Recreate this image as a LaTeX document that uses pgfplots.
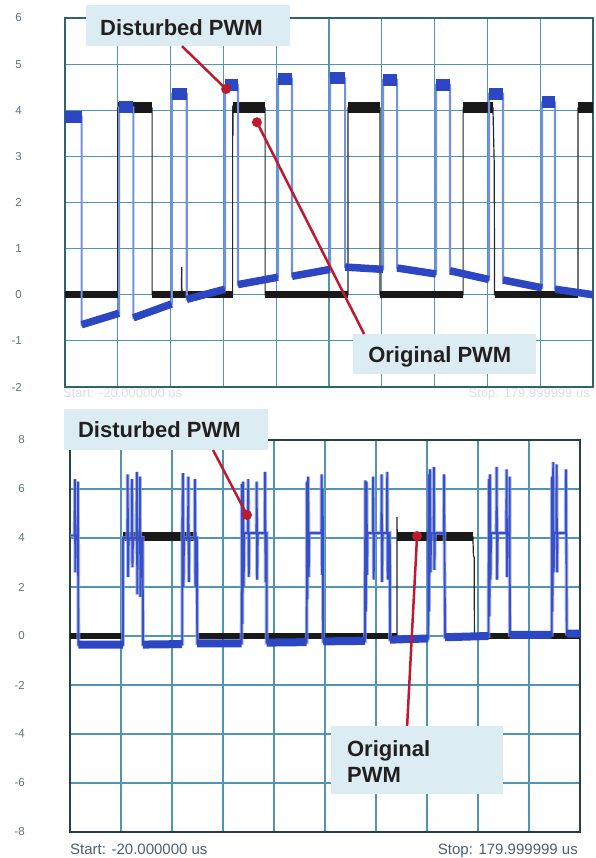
\documentclass[border=0pt]{standalone}
\usepackage{fontspec}
\setmainfont{Liberation Sans}
\usepackage{pgfplots}
\usepackage{pgfplotstable}
\pgfplotsset{compat=1.18}
\definecolor{gridc}{RGB}{80,150,180}
\definecolor{framec}{RGB}{45,100,110}
\definecolor{frameb}{RGB}{35,65,65}
\definecolor{bluedark}{RGB}{45,70,195}
\definecolor{bluelight}{RGB}{115,145,225}
\definecolor{bluehalo}{RGB}{140,160,230}
\definecolor{bluemid}{RGB}{55,80,200}
\definecolor{boxc}{RGB}{219,237,243}
\definecolor{redc}{RGB}{190,25,45}
\definecolor{txtc}{RGB}{35,31,32}
\definecolor{tickc}{RGB}{95,115,125}
\definecolor{startc}{RGB}{75,95,115}
\pgfplotstableread{
t v
-20 4.1
-18.2 4.1
-18.1 6.4
-17.9 2.6
-17.7 4.1
-17.0 4.1
-16.9 6.3
-16.7 -0.35
0.8 -0.35
0.8 4.0
2.5 4.0
2.6 6.6
2.8 2.4
3.0 4.0
4.2 4.0
4.3 6.4
4.5 2.8
4.7 4.0
6.1 4.0
6.2 6.7
6.4 1.7
6.6 4.0
7.3 4.0
7.4 6.5
7.6 1.6
7.8 4.0
8.5 4.0
8.6 -0.35
24.0 -0.33
24.0 4.0
24.3 6.65
24.5 2.0
24.7 4.0
26.3 4.0
26.4 6.5
26.6 2.2
26.8 4.0
28.9 4.0
29.0 6.4
29.2 2.0
29.4 4.0
29.8 4.0
29.9 -0.3
47.3 -0.3
47.4 6.2
47.6 0.5
47.9 6.3
48.1 2.0
48.3 4.2
49.8 4.2
49.9 6.4
50.1 2.4
50.3 4.2
53.1 4.2
53.2 6.3
53.4 2.3
53.6 4.2
56.4 4.2
56.5 6.7
56.7 2.2
56.9 4.2
57.1 4.2
57.1 -0.27
72.8 -0.25
72.9 6.3
73.1 1.5
73.4 6.5
73.6 2.4
73.8 4.2
78.6 4.2
78.7 6.6
78.9 2.5
79.1 6.0
79.3 -0.22
95.7 -0.2
95.8 6.35
96.0 1.0
96.3 6.3
96.5 2.5
96.7 4.2
98.8 4.2
98.9 6.5
99.1 2.3
99.3 4.2
102.1 4.2
102.2 6.6
102.4 2.2
102.6 4.2
104.3 4.2
104.4 6.7
104.6 2.3
104.8 4.2
105.4 4.2
105.5 -0.15
120.5 -0.1
120.6 6.6
120.8 1.0
121.2 6.8
121.4 2.6
121.6 4.2
122.6 4.2
122.7 6.9
122.9 2.7
123.1 4.2
126.6 4.2
126.7 6.6
126.9 2.6
127.1 -0.05
144.1 0.0
144.3 6.4
144.5 0.8
144.7 6.6
144.9 2.3
145.1 4.2
147.2 4.2
147.3 6.9
147.5 2.3
147.7 4.2
151.1 4.2
151.2 6.8
151.4 2.4
151.6 4.2
152.3 4.2
152.4 6.5
152.5 0.05
168.9 0.05
169.0 6.5
169.2 1.0
169.5 7.1
169.7 2.6
169.9 4.2
170.7 4.2
170.8 7.0
171.0 2.6
171.2 4.2
174.4 4.2
174.5 6.8
174.7 2.6
174.8 0.1
180 0.1
}\burst
\begin{document}
\begin{tikzpicture}
\useasboundingbox (0pt,0pt) rectangle (595pt,858pt);
% ---------------- TOP PANEL ----------------
\begin{axis}[
  at={(65pt,471pt)}, anchor=south west, scale only axis,
  width=528pt, height=369pt,
  xmin=-20, xmax=180, ymin=-2, ymax=6,
  xtick={-20,0,...,180}, xticklabels={},
  ytick={-2,-1,...,6}, yticklabels={-2,-1,0,1,2,3,4,5,6},
  major tick length=0pt,
  grid=major, major grid style={gridc, line width=1.2pt},
  axis line style={framec, line width=1.4pt},
  yticklabel style={font=\fontsize{11.5}{13}\selectfont, text=tickc, anchor=east, inner sep=0pt, xshift=-43pt},
  clip=false, unbounded coords=jump,
]
% original PWM (black) thin trace
\addplot[black!85, line width=1.2pt] coordinates {
(-20,0)(0,0)(0,4.05)(13,4.05)(13,0)(24.1,0)(24.2,0.6)(24.3,0)(43.5,0)(43.5,4.1)(43.6,3.45)(43.7,4.05)
(55.8,4.05)(55.8,0)(87.2,0)(87.2,4.05)(99.3,4.05)(99.3,0)(130.8,0)(130.8,4.05)(142.1,4.05)(142.6,2.8)(142.7,0)
(174.3,0)(174.3,4.05)(180,4.05)};
\addplot[black!90, line width=7pt] coordinates {
(-20,0)(0,0)(5,nan)(13,0)(43.5,0)(50,nan)(55.8,0)(87.2,0)(90,nan)(99.3,0)(130.8,0)(135,nan)(142.7,0)(174.3,0)};
\addplot[black!90, line width=11pt] coordinates {
(0,4.05)(13,4.05)(20,nan)(43.6,4.05)(55.8,4.05)(60,nan)(87.2,4.05)(99.3,4.05)(110,nan)(130.8,4.05)(142.1,4.05)(150,nan)(174.3,4.05)(180,4.05)};
% disturbed PWM (blue) thin trace
\addplot[bluelight, line width=2.2pt] coordinates {
(-20,3.86)(-13.7,3.86)(-13.7,-0.65)(0.5,-0.4)(0.5,4.06)(5.9,4.06)(5.9,-0.5)(20.4,-0.2)
(20.4,4.35)(26.1,4.35)(26.1,-0.1)(40.6,0.12)(40.6,4.54)(45.5,4.54)(45.5,0.22)(60.7,0.38)
(60.7,4.68)(66.0,4.68)(66.0,0.4)(80.4,0.55)(80.4,4.69)(86.1,4.69)(86.1,0.6)(100.5,0.55)
(100.5,4.66)(105.8,4.66)(105.8,0.58)(120.5,0.45)(120.5,4.55)(125.8,4.55)(125.8,0.52)(140.6,0.33)
(140.6,4.35)(145.9,4.35)(145.9,0.32)(160.7,0.15)(160.7,4.17)(165.6,4.17)(165.6,0.12)(180,0.0)};
\addplot[bluedark, line width=7.5pt] coordinates {
(-13.7,-0.65)(0.5,-0.4)(3,nan)(5.9,-0.5)(20.4,-0.2)(23,nan)(26.1,-0.1)(40.6,0.12)(43,nan)
(45.5,0.22)(60.7,0.38)(63,nan)(66.0,0.4)(80.4,0.55)(83,nan)(86.1,0.6)(100.5,0.55)(103,nan)
(105.8,0.58)(120.5,0.45)(123,nan)(125.8,0.52)(140.6,0.33)(143,nan)(145.9,0.32)(160.7,0.15)(163,nan)
(165.6,0.12)(180,0.0)};
\addplot[bluedark, line width=12pt] coordinates {
(-20,3.86)(-13.7,3.86)(-10,nan)(0.5,4.06)(5.9,4.06)(10,nan)(20.4,4.35)(26.1,4.35)(30,nan)
(40.6,4.54)(45.5,4.54)(50,nan)(60.7,4.68)(66.0,4.68)(70,nan)(80.4,4.69)(86.1,4.69)(90,nan)
(100.5,4.66)(105.8,4.66)(110,nan)(120.5,4.55)(125.8,4.55)(130,nan)(140.6,4.35)(145.9,4.35)(150,nan)
(160.7,4.17)(165.6,4.17)};
% annotations
\fill[boxc] (axis cs:-12,6.28) rectangle (axis cs:65.2,5.39);
\node[anchor=base west, inner sep=0pt, text=txtc, font=\fontsize{22}{26}\selectfont\bfseries] at (axis cs:-6.74,5.63) {Disturbed PWM};
\draw[redc, line width=2.5pt] (axis cs:24.3,5.39) -- (axis cs:41.0,4.46);
\fill[redc] (axis cs:41.0,4.46) circle (5pt);
\fill[boxc] (axis cs:89.1,-0.85) rectangle (axis cs:158.4,-1.72);
\node[anchor=base west, inner sep=0pt, text=txtc, font=\fontsize{22}{26}\selectfont\bfseries] at (axis cs:94.8,-1.46) {Original PWM};
\draw[redc, line width=2.5pt] (axis cs:93.3,-0.85) -- (axis cs:52.7,3.74);
\fill[redc] (axis cs:52.7,3.74) circle (5pt);
\end{axis}
\node[anchor=base west, inner sep=0pt, text=black!12, font=\fontsize{13}{15}\selectfont] at (63pt,460pt) {Start: -20.000000 us};
\node[anchor=base east, inner sep=0pt, text=black!12, font=\fontsize{13}{15}\selectfont] at (590pt,460pt) {Stop: 179.999999 us};
% ---------------- BOTTOM PANEL ----------------
\begin{axis}[
  at={(70pt,26pt)}, anchor=south west, scale only axis,
  width=510pt, height=392pt,
  xmin=-20, xmax=180, ymin=-8, ymax=8,
  xtick={-20,0,...,180}, xticklabels={},
  ytick={-8,-6,...,8}, yticklabels={-8,-6,-4,-2,0,2,4,6,8},
  major tick length=0pt,
  grid=major, major grid style={gridc, line width=1.2pt},
  axis line style={frameb, line width=1.8pt},
  yticklabel style={font=\fontsize{11.5}{13}\selectfont, text=tickc, anchor=east, inner sep=0pt, xshift=-45pt},
  clip=false, unbounded coords=jump,
]
% original PWM (black)
\addplot[black!85, line width=1.2pt] coordinates {
(-20,0)(0.8,0)(0.8,4.05)(29.8,4.05)(29.8,0)(108.2,0)(108.2,4.85)(108.35,4.05)(138,4.05)(138.2,3.3)(138.5,3.2)(138.6,0)(180,0)};
\addplot[black!90, line width=6pt] coordinates {
(-20,0)(0.8,0)(10,nan)(29.8,0)(108.2,0)(120,nan)(138.6,0)(180,0)};
\addplot[black!90, line width=9pt] coordinates {
(0.8,4.05)(29.8,4.05)(50,nan)(108.3,4.05)(138,4.05)};
% disturbed PWM (blue) bursts: halo then core
\addplot[bluehalo, line width=3.8pt, opacity=0.7] table[x=t,y=v] {\burst};
\addplot[bluemid, line width=1.9pt] table[x=t,y=v] {\burst};
\addplot[bluedark, line width=8pt] coordinates {
(-16.7,-0.35)(0.8,-0.35)(4,nan)(8.6,-0.35)(24.0,-0.33)(26,nan)(29.9,-0.3)(47.3,-0.3)(50,nan)
(57.1,-0.27)(72.8,-0.25)(75,nan)(79.3,-0.22)(95.7,-0.2)(100,nan)(105.5,-0.15)(120.5,-0.1)(122,nan)
(127.1,-0.05)(144.1,0.0)(146,nan)(152.5,0.05)(168.9,0.05)(171,nan)(174.8,0.1)(180,0.1)};
% annotations
\fill[boxc] (axis cs:-22.4,9.27) rectangle (axis cs:57.6,7.59);
\node[anchor=base west, inner sep=0pt, text=txtc, font=\fontsize{22}{26}\selectfont\bfseries] at (axis cs:-16.9,8.12) {Disturbed PWM};
\draw[redc, line width=2.5pt] (axis cs:36.1,7.59) -- (axis cs:49.4,4.94);
\fill[redc] (axis cs:49.4,4.94) circle (5pt);
\fill[boxc] (axis cs:82.4,-3.67) rectangle (axis cs:149.8,-6.45);
\node[anchor=base west, inner sep=0pt, text=txtc, font=\fontsize{22}{26}\selectfont\bfseries] at (axis cs:88.6,-4.90) {Original};
\node[anchor=base west, inner sep=0pt, text=txtc, font=\fontsize{22}{26}\selectfont\bfseries] at (axis cs:88.6,-6.0) {PWM};
\draw[redc, line width=2.5pt] (axis cs:112.2,-3.67) -- (axis cs:116.1,4.08);
\fill[redc] (axis cs:116.1,4.08) circle (5pt);
\end{axis}
\node[anchor=base west, inner sep=0pt, text=startc, font=\fontsize{15}{17}\selectfont] at (70pt,3pt) {Start: -20.000000 us};
\node[anchor=base east, inner sep=0pt, text=startc, font=\fontsize{15}{17}\selectfont] at (578pt,3pt) {Stop: 179.999999 us};
\end{tikzpicture}
\end{document}
